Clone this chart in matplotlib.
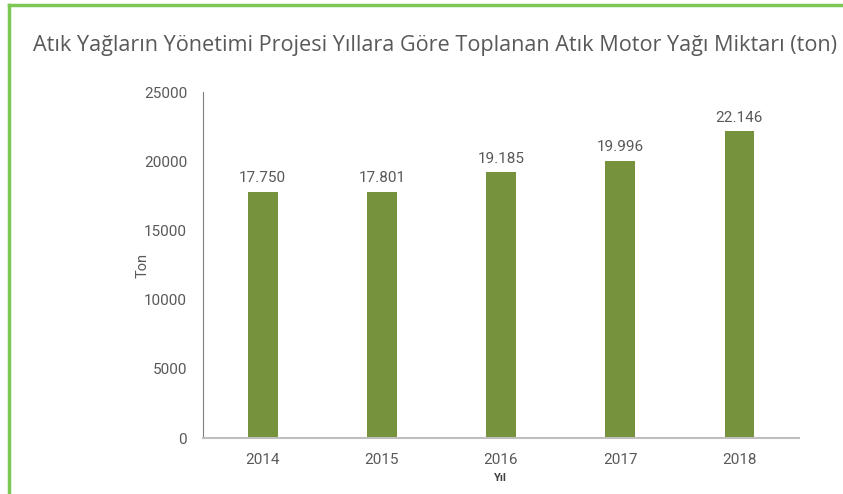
import matplotlib.pyplot as plt
from matplotlib.lines import Line2D

# Data
years = ['2014', '2015', '2016', '2017', '2018']
amounts = [17750, 17801, 19185, 19996, 22146]
labels = ['17.750', '17.801', '19.185', '19.996', '22.146']

narrow = ['Roboto', 'DejaVu Sans']
gray = '#595959'

fig = plt.figure(figsize=(8.43, 4.94), dpi=100)
ax = fig.add_axes([203/843, 1 - 438/494, 596/843, 346/494])

ax.bar(range(len(years)), amounts, width=0.25, color='#76923C')
for i, v in enumerate(amounts):
    ax.text(i, v + 500, labels[i], ha='center', va='bottom', fontsize=11,
            color=gray, family=narrow)

ax.set_xlim(-0.5, 4.5)
ax.set_ylim(0, 25000)
ax.set_xticks(range(len(years)))
ax.set_xticklabels(years)
ax.set_yticks(range(0, 25001, 5000))
ax.tick_params(axis='both', length=0, labelsize=11, labelcolor=gray)
ax.tick_params(axis='x', pad=11)
ax.tick_params(axis='y', pad=11.5)
for lbl in ax.get_xticklabels() + ax.get_yticklabels():
    lbl.set_family(narrow)

for s in ['top', 'right']:
    ax.spines[s].set_visible(False)
ax.spines['left'].set_color('#808080')
ax.spines['bottom'].set_color('#BFBFBF')
ax.spines['bottom'].set_linewidth(1.5)

fig.text(143/843, 1 - 265/494, 'Ton', rotation=90, ha='center', va='center',
         fontsize=10.5, color=gray, family=narrow)
fig.text(500/843, 1 - 478/494, 'Yıl', ha='center', va='center', fontsize=8,
         fontweight='bold', color='#404040', family=narrow)

fig.text(33/843, 1 - 45/494, 'Atık Yağların Yönetimi Projesi Yıllara Göre Toplanan Atık Motor Yağı Miktarı (ton)',
         ha='left', va='center', fontsize=15.6, color=gray, family=['Open Sans', 'DejaVu Sans'])

# green frame on top and left
fig.add_artist(Line2D([9/843, 1], [1 - 5/494, 1 - 5/494], transform=fig.transFigure,
                      color='#7DC855', linewidth=2.5))
fig.add_artist(Line2D([9/843, 9/843], [0, 1 - 5/494], transform=fig.transFigure,
                      color='#7DC855', linewidth=2.5))

fig.savefig('out.png', dpi=100)
